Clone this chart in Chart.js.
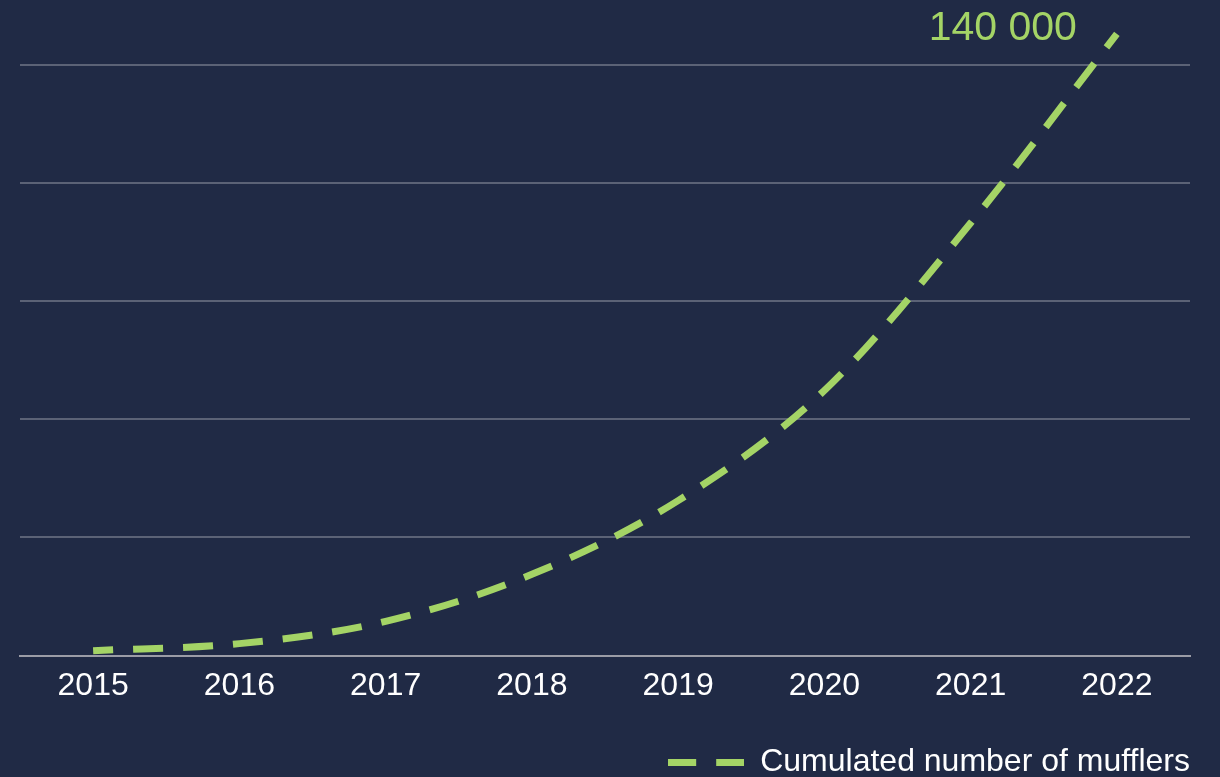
<!DOCTYPE html>
<html>
<head>
<meta charset="utf-8">
<script src="https://cdn.jsdelivr.net/npm/chart.js@4/dist/chart.umd.min.js"></script>
<style>
  html, body { margin: 0; padding: 0; background: #202a45; }
  #wrap { width: 1220px; height: 777px; position: relative; }
</style>
</head>
<body>
<div id="wrap"><canvas id="chart"></canvas></div>
<script>
// Data
const years = ['2015', '2016', '2017', '2018', '2019', '2020', '2021', '2022'];
const mufflers = [1100, 2700, 7700, 18300, 34900, 59700, 97400, 140000];
const seriesLabel = 'Cumulated number of mufflers';
const yMax = 133000;
const yStep = 26600;

const lineColor = '#a4d466';
const fontFamily = '"Liberation Sans", Arial, sans-serif';

// Format numbers with a space as thousands separator
function spaced(v) {
  return String(v).replace(/\B(?=(\d{3})+(?!\d))/g, ' ');
}

// Little dashed sample used as the legend marker
function legendDash() {
  const c = document.createElement('canvas');
  c.width = 76;
  c.height = 7;
  const g = c.getContext('2d');
  g.fillStyle = lineColor;
  g.fillRect(0, 0, 28, 7);
  g.fillRect(48, 0, 28, 7);
  return c;
}

// Draw the value of the last point next to it
const lastValueLabel = {
  id: 'lastValueLabel',
  afterDatasetsDraw(chart) {
    const meta = chart.getDatasetMeta(0);
    const last = meta.data[meta.data.length - 1];
    const ctx = chart.ctx;
    ctx.save();
    ctx.font = '41px ' + fontFamily;
    ctx.fillStyle = lineColor;
    ctx.textAlign = 'right';
    ctx.textBaseline = 'alphabetic';
    ctx.fillText(spaced(mufflers[mufflers.length - 1]), last.x - 40, last.y + 6);
    ctx.restore();
  }
};

const marker = legendDash();

new Chart(document.getElementById('chart'), {
  type: 'line',
  data: {
    labels: years,
    datasets: [{
      label: seriesLabel,
      data: mufflers,
      borderColor: lineColor,
      backgroundColor: lineColor,
      borderWidth: 7,
      borderDash: [30, 20],
      borderDashOffset: 10,
      borderCapStyle: 'butt',
      pointRadius: 0,
      cubicInterpolationMode: 'monotone',
      clip: false,
      pointStyle: marker
    }]
  },
  options: {
    responsive: true,
    maintainAspectRatio: false,
    animation: false,
    layout: {
      padding: { left: 20, right: 30, top: 65, bottom: -11 }
    },
    plugins: {
      legend: {
        position: 'bottom',
        align: 'end',
        labels: {
          color: '#ffffff',
          font: { size: 32, family: fontFamily },
          usePointStyle: true,
          pointStyleWidth: 76,
          padding: 0
        }
      },
      tooltip: { enabled: false }
    },
    scales: {
      x: {
        offset: true,
        grid: { display: false, drawTicks: false },
        border: { color: '#9b9ca6', width: 2 },
        ticks: {
          color: '#ffffff',
          font: { size: 32, family: fontFamily },
          padding: 11,
          maxRotation: 0
        },
        afterFit: scale => { scale.height += 30; }
      },
      y: {
        min: 0,
        max: yMax,
        grid: { color: '#5b6276', lineWidth: 2, drawTicks: false },
        border: { display: false },
        ticks: { display: false, stepSize: yStep }
      }
    }
  },
  plugins: [lastValueLabel]
});
</script>
</body>
</html>
